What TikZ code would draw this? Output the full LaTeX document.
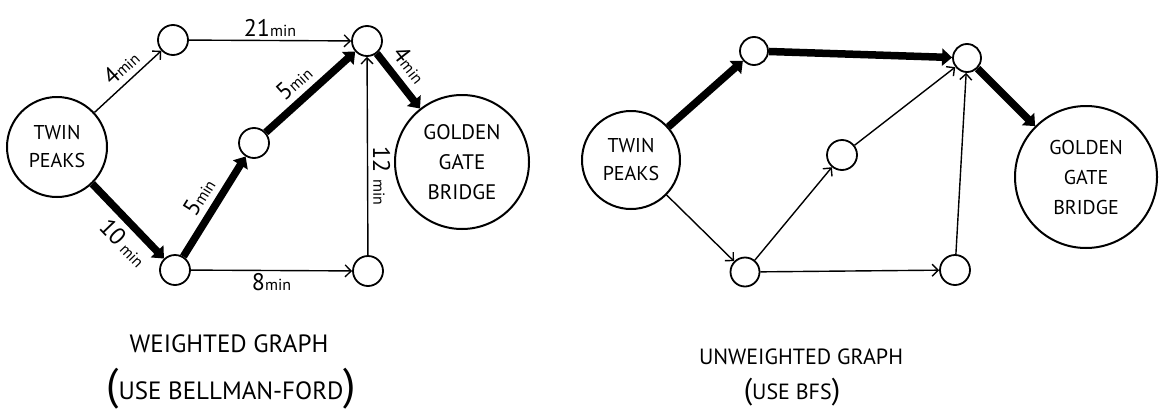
\documentclass[tikz,border=0pt]{standalone}
\usepackage{fontspec}
\setmainfont{PT Sans}
\usetikzlibrary{arrows.meta}
\newcommand\minlbl[1]{#1{\fontsize{16}{16}\selectfont min}}
\begin{document}
\begin{tikzpicture}[x=1pt,y=-1pt,
  dot/.style={circle, draw, line width=1.8pt, minimum size=30pt, inner sep=0pt},
  place/.style={circle, draw, line width=2pt, inner sep=0pt, align=center, font=\fontsize{20}{28}\selectfont},
  thinarrow/.style={line width=1.4pt, -{Straight Barb[length=6pt,width=12pt,line width=1.4pt]}},
  thickarrow/.style={line width=7.5pt, -{Triangle[length=10pt,width=17pt]}},
  lbl/.style={font=\fontsize{24}{24}\selectfont, inner sep=5pt},
  captxt/.style={font=\fontsize{25}{25}\selectfont},
  captxtr/.style={font=\fontsize{22}{22}\selectfont}
]
\useasboundingbox (0,0) rectangle (1166,415);
\fill[white] (0,0) rectangle (1166,415);

% ---------- weighted graph ----------
\node[place, minimum size=100pt] (tp) at (57,147) {TWIN\\PEAKS};
\node[dot] (a) at (173,40) {};
\node[dot] (c) at (254,143) {};
\node[dot] (b) at (175,270) {};
\node[dot] (d) at (367,41) {};
\node[dot] (e) at (368,271) {};
\node[place, minimum size=134pt, font=\fontsize{21}{30}\selectfont] (gg) at (462,162) {GOLDEN\\GATE\\BRIDGE};

\draw[thinarrow] (tp) -- node[lbl, pos=0.55, above, sloped, inner sep=6pt] {\minlbl{4}} (a);
\draw[thinarrow] (a) -- node[lbl, midway, above, inner sep=3pt] {\minlbl{21}} (d);
\draw[thickarrow] (tp) -- node[lbl, pos=0.62, below, sloped, inner sep=6pt] {10\,{\fontsize{16}{16}\selectfont min}} (b);
\draw[thickarrow] (b) -- node[lbl, pos=0.5, above, sloped, inner sep=6pt] {\minlbl{5}} (c);
\draw[thickarrow] (c) -- node[lbl, pos=0.45, above, sloped, inner sep=6pt] {\minlbl{5}} (d);
\draw[thinarrow] (b) -- node[lbl, midway, below, inner sep=2pt] {\minlbl{8}} (e);
\draw[thinarrow] (e) -- node[lbl, pos=0.40, above, sloped, inner sep=5pt] {12 {\fontsize{16}{16}\selectfont min}} (d);
\draw[thickarrow] (d) -- node[lbl, pos=0.42, above, sloped, inner sep=7pt] {\minlbl{4}} (gg);

\node[captxt] (cap1) at (229,344) {WEIGHTED GRAPH};
\node[captxt] (cap2) at (231,389) {{\fontsize{44}{44}\selectfont(}USE BELLMAN-FORD{\fontsize{44}{44}\selectfont)}};

% ---------- unweighted graph ----------
\node[place, minimum size=98pt] (tp2) at (631,160) {TWIN\\PEAKS};
\node[dot, minimum size=28pt] (a2) at (754,51) {};
\node[dot, minimum size=28pt] (d2) at (967,58) {};
\node[dot, minimum size=30pt] (c2) at (842,155) {};
\node[dot, minimum size=29pt] (b2) at (745,272) {};
\node[dot, minimum size=30pt] (e2) at (955,270) {};
\node[place, minimum size=142pt, font=\fontsize{20}{30}\selectfont] (gg2) at (1086,177) {GOLDEN\\GATE\\BRIDGE};

\draw[thickarrow] (tp2) -- (a2);
\draw[thickarrow] (a2) -- (d2);
\draw[thickarrow] (d2) -- (gg2);
\draw[thinarrow] (tp2) -- (b2);
\draw[thinarrow] (b2) -- (c2);
\draw[thinarrow] (c2) -- (d2);
\draw[thinarrow] (b2) -- (e2);
\draw[thinarrow] (e2) -- (d2);

\node[captxtr] (cap3) at (801,357) {UNWEIGHTED GRAPH};
\node[captxtr] (cap4) at (792,392) {{\fontsize{30}{30}\selectfont(}USE BFS{\fontsize{30}{30}\selectfont)}};
\end{tikzpicture}
\end{document}
